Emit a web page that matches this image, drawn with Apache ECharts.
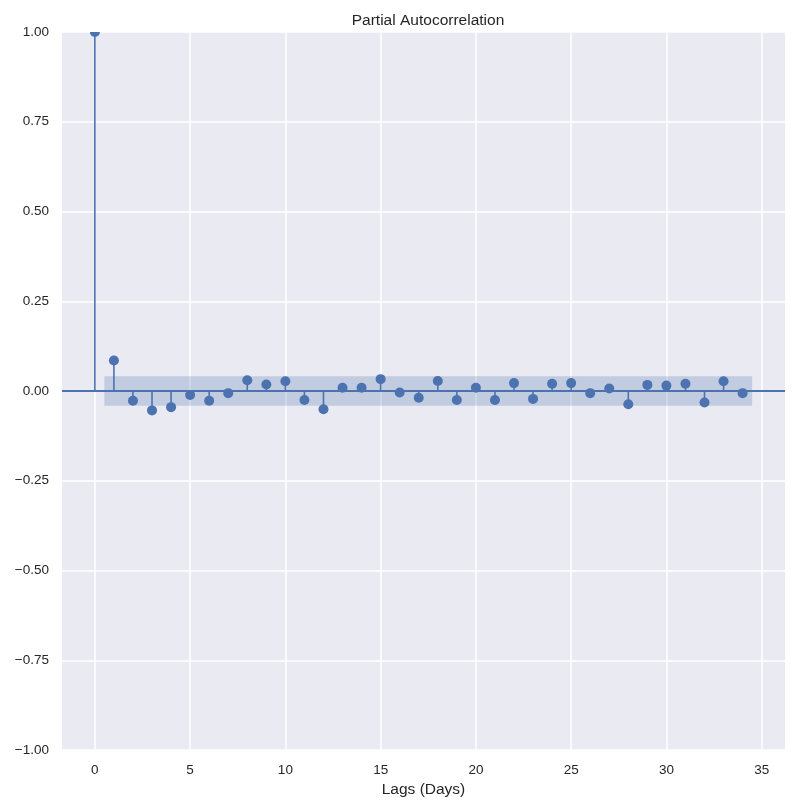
<!DOCTYPE html>
<html lang="en">
<head>
    <meta charset="UTF-8">
    <title>Partial Autocorrelation</title>
    <script src="https://cdn.jsdelivr.net/npm/echarts@6/dist/echarts.min.js"></script>
</head>
<body style="margin:0;background:#fff;">
    <div id="main" style="width: 795px;height:803px;"></div>
    <script type="text/javascript">

        // lags and partial autocorrelation values
        var lags = [];
        for (var i = 0; i <= 34; i++) lags.push(i);
        var pacf = [
            1.0, 0.085, -0.027, -0.054, -0.045, -0.011, -0.027, -0.006, 0.030, 0.018,
            0.027, -0.025, -0.051, 0.009, 0.009, 0.033, -0.004, -0.019, 0.028, -0.025,
            0.009, -0.025, 0.022, -0.022, 0.020, 0.022, -0.006, 0.007, -0.037, 0.017,
            0.015, 0.020, -0.032, 0.027, -0.006
        ];
        // confidence band (lag range and half width)
        var bandLags = [0.5, 34.5];
        var bandHalf = 0.041;
        var xTicks = [0, 5, 10, 15, 20, 25, 30, 35];

        var blue = '#4c72b0';
        var textColor = '#262626';
        var font = 'Liberation Sans, Arial, sans-serif';

        var points = lags.map(function (l, i) { return [l, pacf[i]]; });

        var chartDom = document.getElementById('main');
        var myChart = echarts.init(chartDom);

        var option = {
            animation: false,
            backgroundColor: '#ffffff',
            title: {
                text: 'Partial Autocorrelation',
                left: 423,
                textAlign: 'center',
                top: 8,
                textStyle: { fontSize: 15.5, fontWeight: 'normal', color: textColor, fontFamily: font }
            },
            grid: {
                left: 62, right: 10, top: 32, bottom: 53,
                show: true, backgroundColor: '#eaeaf2', borderWidth: 0
            },
            xAxis: {
                type: 'value',
                min: -1.725,
                max: 36.225,
                name: 'Lags (Days)',
                nameLocation: 'middle',
                nameGap: 30,
                nameTextStyle: { fontSize: 15.5, color: textColor, fontFamily: font },
                axisLine: { show: false },
                axisTick: { show: false, customValues: xTicks },
                axisLabel: {
                    customValues: xTicks,
                    fontSize: 13.5, color: textColor, fontFamily: font, margin: 13
                },
                splitLine: { show: true, lineStyle: { color: '#ffffff', width: 1.5 } }
            },
            yAxis: {
                type: 'value',
                min: -1,
                max: 1,
                interval: 0.25,
                axisLine: { show: false },
                axisTick: { show: false },
                axisLabel: {
                    fontSize: 13.5, color: textColor, fontFamily: font, margin: 13,
                    formatter: function (v) {
                        var s = Math.abs(v) < 1e-9 ? '0.00' : v.toFixed(2);
                        return s.replace('-', '\u2212');
                    }
                },
                splitLine: { show: true, lineStyle: { color: '#ffffff', width: 1.5 } }
            },
            series: [
                {
                    // confidence band
                    type: 'custom',
                    z: 1,
                    silent: true,
                    data: [[bandLags[0], bandLags[1], bandHalf]],
                    renderItem: function (params, api) {
                        var p1 = api.coord([api.value(0), api.value(2)]);
                        var p2 = api.coord([api.value(1), -api.value(2)]);
                        return {
                            type: 'rect',
                            shape: { x: p1[0], y: p1[1], width: p2[0] - p1[0], height: p2[1] - p1[1] },
                            style: { fill: 'rgba(76,114,176,0.25)' }
                        };
                    },
                    markLine: {
                        silent: true,
                        symbol: 'none',
                        label: { show: false },
                        lineStyle: { color: blue, width: 1.8, type: 'solid' },
                        data: [{ yAxis: 0 }]
                    }
                },
                {
                    // stems and markers, clipped to the plot like matplotlib does
                    type: 'custom',
                    z: 3,
                    silent: true,
                    clip: true,
                    data: points,
                    renderItem: function (params, api) {
                        var a = api.coord([api.value(0), 0]);
                        var b = api.coord([api.value(0), api.value(1)]);
                        return {
                            type: 'group',
                            children: [
                                {
                                    type: 'line',
                                    shape: { x1: a[0], y1: a[1], x2: b[0], y2: b[1] },
                                    style: { stroke: blue, lineWidth: 1.6 }
                                },
                                {
                                    type: 'circle',
                                    shape: { cx: b[0], cy: b[1], r: 5 },
                                    style: { fill: blue }
                                }
                            ]
                        };
                    }
                }
            ]
        };

        option && myChart.setOption(option);

    </script>
</body>
</html>
